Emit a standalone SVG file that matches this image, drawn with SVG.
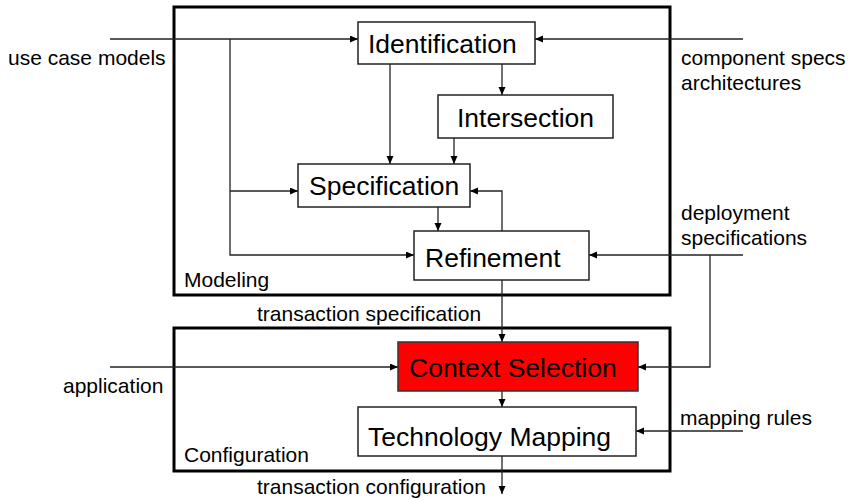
<svg xmlns="http://www.w3.org/2000/svg" width="850" height="500" viewBox="0 0 850 500">
<style>
.outer{fill:none;stroke:#000;stroke-width:3}
.box{fill:#fff;stroke:#222;stroke-width:1.5}
.red{fill:#ff0000;stroke:#333;stroke-width:1.5}
.big{font-family:"Liberation Sans",Arial,sans-serif;font-size:26.5px;fill:#000}
.small{font-family:"Liberation Sans",Arial,sans-serif;font-size:21px;fill:#000}
.c{fill:none;stroke:#222;stroke-width:1.3}
.a{marker-end:url(#ah)}
</style>
<defs>
<marker id="ah" markerUnits="userSpaceOnUse" markerWidth="9" markerHeight="8" refX="8" refY="3.5" orient="auto">
<path d="M0,0 L8,3.5 L0,7 z" fill="#000"/>
</marker>
</defs>
<rect width="850" height="500" fill="#fff"/>
<g id="modeling">
<rect class="outer" x="174" y="7" width="496" height="288"/>
<text class="small" x="184" y="287">Modeling</text>
</g>
<g id="configuration">
<rect class="outer" x="174" y="328" width="496" height="143"/>
<text class="small" x="184" y="462">Configuration</text>
</g>
<g id="connectors">
<path class="c a" d="M110,39 H358"/>
<path class="c a" d="M230,39 V255 H414"/>
<path class="c a" d="M230,191 H298"/>
<path class="c a" d="M743,39 H535"/>
<path class="c a" d="M390,64 V164"/>
<path class="c a" d="M502,64 V95"/>
<path class="c a" d="M454,138 V164"/>
<path class="c a" d="M438,207 V231"/>
<path class="c a" d="M502,231 V191 H470"/>
<path class="c a" d="M743,255 H589"/>
<path class="c a" d="M710,255 V367 H638"/>
<path class="c a" d="M502,280 V342"/>
<path class="c a" d="M110,367 H398"/>
<path class="c a" d="M502,391 V407"/>
<path class="c a" d="M743,431 H636"/>
<path class="c a" d="M502,456 V494"/>
</g>
<g id="identification">
<rect class="box" x="358" y="22" width="177" height="42"/>
<text class="big" x="368" y="53">Identification</text>
</g>
<g id="intersection">
<rect class="box" x="438" y="95" width="175" height="43"/>
<text class="big" x="457" y="127">Intersection</text>
</g>
<g id="specification">
<rect class="box" x="298" y="164" width="172" height="43"/>
<text class="big" x="309" y="195">Specification</text>
</g>
<g id="refinement">
<rect class="box" x="414" y="231" width="175" height="49"/>
<text class="big" x="425" y="267">Refinement</text>
</g>
<g id="context-selection">
<rect class="red" x="398" y="342" width="240" height="49"/>
<text class="big" x="409" y="377">Context Selection</text>
</g>
<g id="technology-mapping">
<rect class="box" x="358" y="407" width="278" height="49"/>
<text class="big" x="368" y="446">Technology Mapping</text>
</g>
<g id="labels">
<text class="small" x="8" y="65">use case models</text>
<text class="small" x="681" y="65">component specs</text>
<text class="small" x="681" y="90">architectures</text>
<text class="small" x="681" y="220">deployment</text>
<text class="small" x="681" y="245">specifications</text>
<text class="small" x="63" y="393">application</text>
<text class="small" x="680" y="425">mapping rules</text>
<text class="small" x="257" y="321">transaction specification</text>
<text class="small" x="257" y="494">transaction configuration</text>
</g>
</svg>
